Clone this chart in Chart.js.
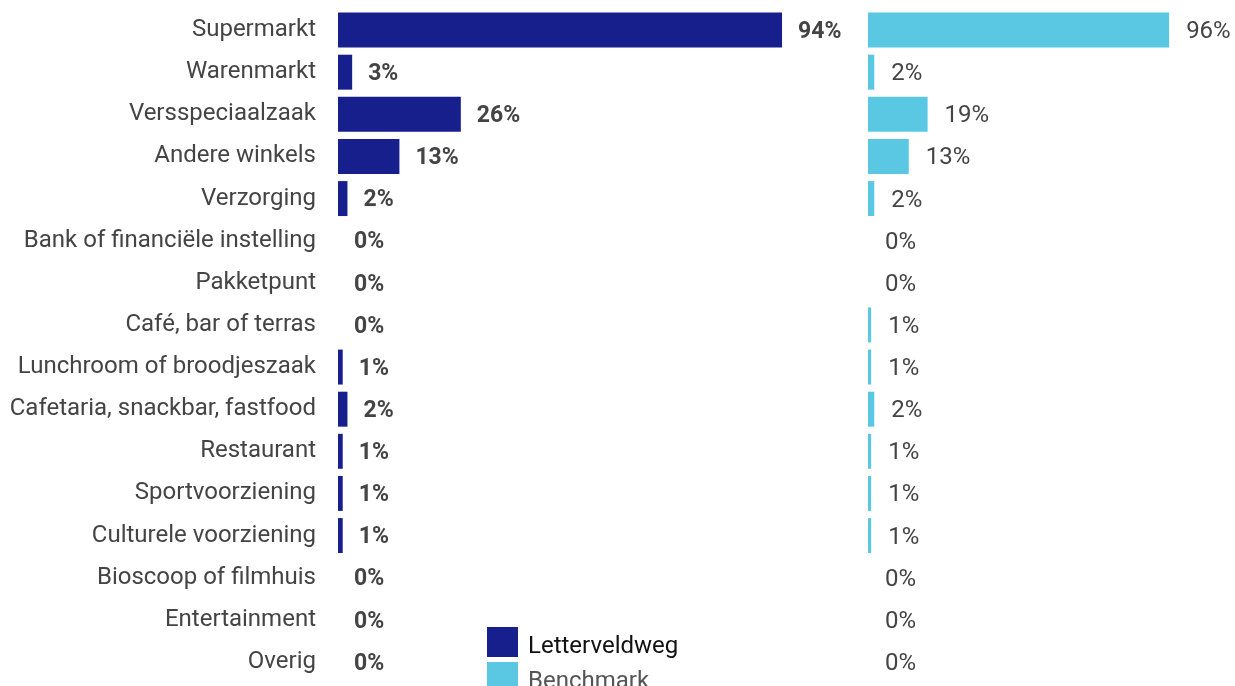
<!DOCTYPE html>
<html>
<head>
<meta charset="utf-8">
<script src="https://cdn.jsdelivr.net/npm/chart.js@4"></script>
<style>
  html, body { margin: 0; padding: 0; background: #fff; overflow: hidden; }
  #wrap { position: relative; width: 1235px; height: 686px; }
  #legend { position: absolute; left: 487px; top: 624px; font-family: Roboto, sans-serif; font-size: 24px; }
  .item { display: flex; align-items: center; height: 35px; }
  .item span:last-child { padding-top: 6px; }
  .box { width: 31px; height: 30px; margin-right: 10px; }
</style>
</head>
<body>
<div id="wrap">
  <canvas id="chart" width="1235" height="686"></canvas>
  <div id="legend">
    <div class="item"><span class="box" style="background:#161f8c"></span><span style="color:#111">Letterveldweg</span></div>
    <div class="item"><span class="box" style="background:#5bc8e3"></span><span style="color:#555">Benchmark</span></div>
  </div>
</div>
<script>
// --- Data ---
const categories = [
    'Supermarkt', 'Warenmarkt', 'Versspeciaalzaak', 'Andere winkels', 'Verzorging',
    'Bank of financiële instelling', 'Pakketpunt', 'Café, bar of terras',
    'Lunchroom of broodjeszaak', 'Cafetaria, snackbar, fastfood', 'Restaurant',
    'Sportvoorziening', 'Culturele voorziening', 'Bioscoop of filmhuis',
    'Entertainment', 'Overig'
];
const letterveldweg = [94, 3, 26, 13, 2, 0, 0, 0, 1, 2, 1, 1, 1, 0, 0, 0];
const benchmark = [96, 2, 19, 13, 2, 0, 0, 1, 1, 2, 1, 1, 1, 0, 0, 0];

const NAVY = '#161f8c';
const CYAN = '#5bc8e3';

// draws the "xx%" labels next to each bar
const valueLabels = {
    id: 'valueLabels',
    afterDatasetsDraw(chart) {
        const ctx = chart.ctx;
        chart.data.datasets.forEach((ds, i) => {
            const meta = chart.getDatasetMeta(i);
            ctx.save();
            ctx.font = i === 0 ? 'bold 23px Roboto, sans-serif' : '24px Roboto, sans-serif';
            ctx.fillStyle = '#444';
            ctx.textBaseline = 'middle';
            ctx.textAlign = 'left';
            meta.data.forEach((bar, j) => {
                const gap = i === 0 ? 16 : 17;
                ctx.fillText(ds.data[j] + '%', bar.x + gap, bar.y + 2);
            });
            ctx.restore();
        });
    }
};

new Chart(document.getElementById('chart'), {
    type: 'bar',
    data: {
        labels: categories,
        datasets: [
            {
                label: 'Letterveldweg',
                data: letterveldweg,
                backgroundColor: NAVY,
                xAxisID: 'x1',
                grouped: false,
                barPercentage: 0.83,
                categoryPercentage: 1
            },
            {
                label: 'Benchmark',
                data: benchmark,
                backgroundColor: CYAN,
                xAxisID: 'x2',
                grouped: false,
                barPercentage: 0.83,
                categoryPercentage: 1
            }
        ]
    },
    options: {
        indexAxis: 'y',
        responsive: false,
        animation: false,
        layout: { padding: { top: 9, bottom: 3, left: 0, right: 0 } },
        scales: {
            y: {
                grid: { display: false, drawTicks: false },
                border: { display: false },
                ticks: {
                    color: '#444',
                    padding: 22,
                    font: { family: 'Roboto, sans-serif', size: 24 }
                },
                afterFit(scale) {
                    scale.width = 338;
                    scale.paddingTop = 0;
                    scale.paddingBottom = 0;
                }
            },
            x1: {
                type: 'linear', position: 'bottom', display: false,
                min: 0, max: 112.2,
                stack: 'panels', stackWeight: 530
            },
            x2: {
                type: 'linear', position: 'bottom', display: false,
                min: 0, max: 117,
                stack: 'panels', stackWeight: 367
            }
        },
        plugins: {
            legend: { display: false },
            tooltip: { enabled: false }
        }
    },
    plugins: [valueLabels]
});
</script>
</body>
</html>
